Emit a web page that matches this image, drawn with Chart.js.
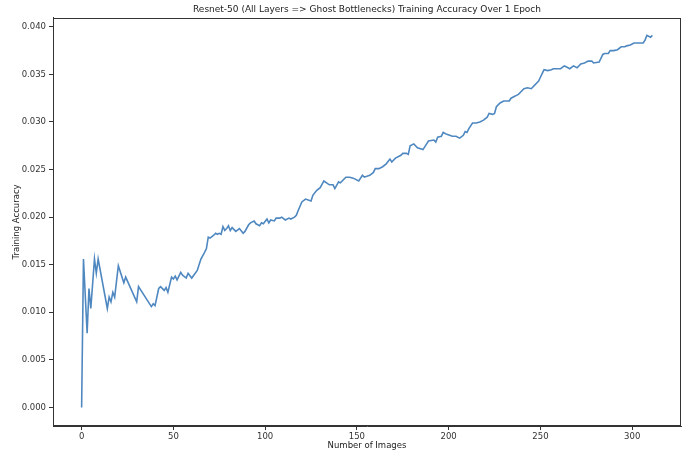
<!DOCTYPE html>
<html>
<head>
<meta charset="utf-8">
<script src="https://cdn.jsdelivr.net/npm/chart.js@4.4.1/dist/chart.umd.min.js"></script>
<style>
  html, body { margin: 0; padding: 0; background: #ffffff; }
  #wrap { width: 686px; height: 454px; }
</style>
</head>
<body>
<div id="wrap"><canvas id="c" width="686" height="454"></canvas></div>
<script>
const chartTitle = "Resnet-50 (All Layers => Ghost Bottlenecks) Training Accuracy Over 1 Epoch";
const xLabel = "Number of Images";
const yLabel = "Training Accuracy";

const stepIdx = [0,1,3,4,5,7,8,9,14,15,16,17,18,20,23,24,30,31,38,39,40,42,43,45,46,47,49,50,51,52,54,55,57,58,60,63,65,67,68,69,70,72,73,74,75,76,77,78,79,80,81,82,84,86,88,89,91,92,94,95,97,98,99,101,102,103,105,106,108,109,111,113,114,116,117,118,120,122,125,126,128,130,132,135,137,138,140,141,144,146,148,151,153,154,157,159,160,162,164,166,168,169,171,174,175,177,178,179,181,183,186,188,189,192,193,194,196,197,199,202,204,206,208,209,210,211,213,215,217,219,221,222,224,225,226,228,230,233,234,236,237,238,239,241,243,245,247,248,249,250,251,252,254,256,257,259,261,263,264,266,268,270,272,274,276,278,279,282,284,285,287,288,290,292,294,296,297,299,301,303,306,307,308,310,311];
const accuracy = [0.0000,0.0156,0.0078,0.0125,0.0104,0.0156,0.0141,0.0156,0.0104,0.0116,0.0111,0.0121,0.0116,0.0149,0.0131,0.0137,0.0111,0.0127,0.0106,0.0109,0.0107,0.0125,0.0127,0.0123,0.0126,0.0121,0.0137,0.0135,0.0138,0.0134,0.0142,0.0139,0.0136,0.0141,0.0136,0.0144,0.0156,0.0163,0.0167,0.0179,0.0178,0.0181,0.0183,0.0182,0.0183,0.0182,0.0190,0.0186,0.0188,0.0191,0.0186,0.0189,0.0185,0.0188,0.0183,0.0185,0.0192,0.0194,0.0196,0.0193,0.0191,0.0194,0.0193,0.0198,0.0194,0.0197,0.0196,0.0199,0.0199,0.0200,0.0197,0.0199,0.0198,0.0200,0.0202,0.0207,0.0216,0.0219,0.0217,0.0223,0.0228,0.0231,0.0238,0.0234,0.0234,0.0230,0.0237,0.0236,0.0242,0.0242,0.0241,0.0238,0.0244,0.0242,0.0244,0.0247,0.0251,0.0251,0.0253,0.0256,0.0261,0.0258,0.0262,0.0265,0.0267,0.0267,0.0266,0.0275,0.0277,0.0273,0.0271,0.0277,0.0280,0.0281,0.0279,0.0284,0.0285,0.0289,0.0287,0.0285,0.0285,0.0283,0.0286,0.0290,0.0289,0.0293,0.0299,0.0299,0.0300,0.0302,0.0305,0.0309,0.0308,0.0309,0.0316,0.0320,0.0322,0.0322,0.0325,0.0327,0.0328,0.0329,0.0331,0.0335,0.0336,0.0335,0.0339,0.0341,0.0343,0.0347,0.0351,0.0355,0.0354,0.0355,0.0356,0.0356,0.0356,0.0359,0.0358,0.0356,0.0359,0.0357,0.0361,0.0362,0.0364,0.0364,0.0362,0.0363,0.0371,0.0372,0.0372,0.0375,0.0375,0.0376,0.0379,0.0379,0.0380,0.0381,0.0383,0.0383,0.0383,0.0386,0.0391,0.0389,0.0391];

const xTicks = [0,50,100,150,200,250,300];
const yTicks = [0.000,0.005,0.010,0.015,0.020,0.025,0.030,0.035,0.040];

const points = stepIdx.map((x, i) => ({ x: x, y: accuracy[i] }));

const boxPlugin = {
  id: 'box',
  afterDraw(chart) {
    const a = chart.chartArea, ctx = chart.ctx;
    ctx.save();
    ctx.strokeStyle = '#333333';
    ctx.lineWidth = 1;
    ctx.strokeRect(Math.round(a.left) + 0.5, Math.round(a.top) + 0.5,
                   Math.round(a.right - a.left) - 1, Math.round(a.bottom - a.top) - 1);
    ctx.restore();
  }
};

const tickFont = { family: "'DejaVu Sans', sans-serif", size: 8.5 };

new Chart(document.getElementById('c'), {
  type: 'line',
  data: {
    datasets: [{
      data: points,
      borderColor: '#4f88c0',
      borderWidth: 1.6,
      pointRadius: 0,
      tension: 0,
      fill: false
    }]
  },
  options: {
    responsive: false,
    animation: false,
    layout: { padding: { left: 0, right: 5, top: 0, bottom: 0 } },
    plugins: {
      legend: { display: false },
      tooltip: { enabled: false },
      title: {
        display: true,
        text: chartTitle,
        fullSize: false,
        color: '#222222',
        font: { family: "'DejaVu Sans', sans-serif", size: 9, weight: 'normal' },
        padding: { top: 4, bottom: 3 }
      }
    },
    scales: {
      x: {
        type: 'linear',
        min: -15.6,
        max: 326.6,
        afterFit(s) { s.height = 28; },
        afterBuildTicks(s) { s.ticks = xTicks.map(v => ({ value: v })); },
        grid: { display: true, drawOnChartArea: false, drawTicks: true, tickLength: 4, color: '#333333' },
        border: { display: true, color: '#333333' },
        ticks: { color: '#333333', font: tickFont, padding: 2, maxRotation: 0, autoSkip: false,
                 callback: v => String(v) },
        title: { display: true, text: xLabel, color: '#222222', font: tickFont, padding: { top: 0, bottom: 3 } }
      },
      y: {
        type: 'linear',
        min: -0.00195,
        max: 0.04095,
        afterFit(s) { s.width = 53; },
        afterBuildTicks(s) { s.ticks = yTicks.map(v => ({ value: v })); },
        grid: { display: true, drawOnChartArea: false, drawTicks: true, tickLength: 4, color: '#333333' },
        border: { display: true, color: '#333333' },
        ticks: { color: '#333333', font: tickFont, padding: 3, autoSkip: false,
                 callback: v => Number(v).toFixed(3) },
        title: { display: true, text: yLabel, color: '#222222', font: tickFont, padding: { top: 12, bottom: 0 } }
      }
    }
  },
  plugins: [boxPlugin]
});
</script>
</body>
</html>
